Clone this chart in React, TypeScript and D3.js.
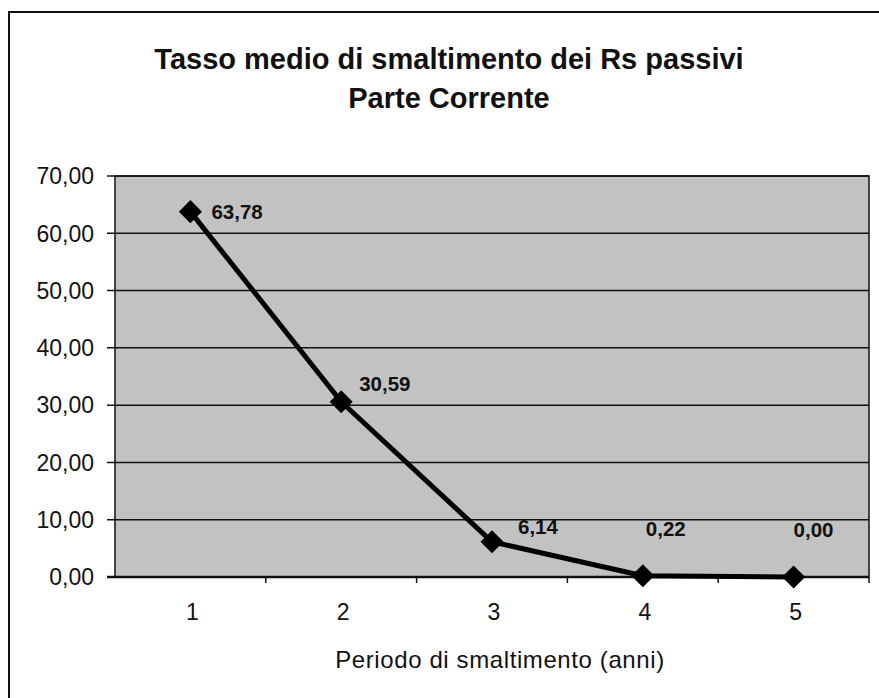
import React from "react";
import * as d3 from "d3";

const categories = ["1", "2", "3", "4", "5"];
const values = [63.78, 30.59, 6.14, 0.22, 0.0];
const yTicks = [0, 10, 20, 30, 40, 50, 60, 70];
const titleLines = ["Tasso medio di smaltimento dei Rs passivi", "Parte Corrente"];
const xTitle = "Periodo di smaltimento (anni)";

const W = 879;
const H = 698;
const plot = { left: 115, right: 869, top: 176, bottom: 577 };
const labelOffsets: [number, number][] = [[21, 0], [18, -18], [26, -15], [3, -47], [0, -47]];
const FONT = "'Liberation Sans', Arial, sans-serif";

const fmt = (v: number) => v.toFixed(2).replace(".", ",");

export default function App() {
  const x = d3.scaleBand<string>().domain(categories).range([plot.left, plot.right]).padding(0);
  const y = d3.scaleLinear().domain([0, 70]).range([plot.bottom, plot.top]);
  const cx = (c: string) => (x(c) as number) + x.bandwidth() / 2;
  const line = d3
    .line<number>()
    .x((_, i) => cx(categories[i]))
    .y((d) => y(d));
  const diamond = d3.symbol().type(d3.symbolSquare).size(265)();
  const boundaries = categories.slice(1).map((c) => x(c) as number);

  return (
    <svg
      width={W}
      height={H}
      style={{ position: "absolute", left: 0, top: 0, background: "#fff" }}
      fontFamily={FONT}
    >
      <rect x={9} y={12} width={900} height={720} fill="#fff" stroke="#111" strokeWidth={2} />
      {titleLines.map((t, i) => (
        <text
          key={i}
          x={449}
          y={69 + i * 39}
          textAnchor="middle"
          fontSize={29}
          fontWeight="bold"
          fill="#111"
        >
          {t}
        </text>
      ))}
      <rect
        x={plot.left}
        y={plot.top}
        width={plot.right - plot.left}
        height={plot.bottom - plot.top}
        fill="#c2c2c2"
        stroke="#111"
        strokeWidth={1.5}
      />
      {yTicks.map((t) => (
        <g key={t}>
          <line x1={plot.left - 8} x2={plot.right} y1={y(t)} y2={y(t)} stroke="#111" strokeWidth={t === 0 ? 2.5 : 1.5} />
          <text x={94} y={y(t)} dy="0.36em" textAnchor="end" fontSize={23} fill="#111">
            {fmt(t)}
          </text>
        </g>
      ))}
      {boundaries.map((b, i) => (
        <line key={i} x1={b} x2={b} y1={plot.bottom} y2={plot.bottom + 6} stroke="#111" strokeWidth={1.5} />
      ))}
      <line x1={plot.right} x2={plot.right} y1={plot.bottom} y2={plot.bottom + 6} stroke="#111" strokeWidth={1.5} />
      {categories.map((c) => (
        <text key={c} x={cx(c) + 2} y={620} textAnchor="middle" fontSize={23} fill="#111">
          {c}
        </text>
      ))}
      <text x={500} y={668} textAnchor="middle" fontSize={24} letterSpacing={0.6} fill="#111">
        {xTitle}
      </text>
      <path d={line(values) || ""} fill="none" stroke="#000" strokeWidth={5} strokeLinejoin="round" />
      {values.map((v, i) => (
        <path
          key={i}
          d={diamond || ""}
          transform={`translate(${cx(categories[i])},${y(v)}) rotate(45)`}
          fill="#000"
        />
      ))}
      {values.map((v, i) => (
        <text
          key={i}
          x={cx(categories[i]) + labelOffsets[i][0]}
          y={y(v) + labelOffsets[i][1]}
          dy="0.36em"
          fontSize={20.5}
          fontWeight="bold"
          fill="#111"
        >
          {fmt(v)}
        </text>
      ))}
    </svg>
  );
}
